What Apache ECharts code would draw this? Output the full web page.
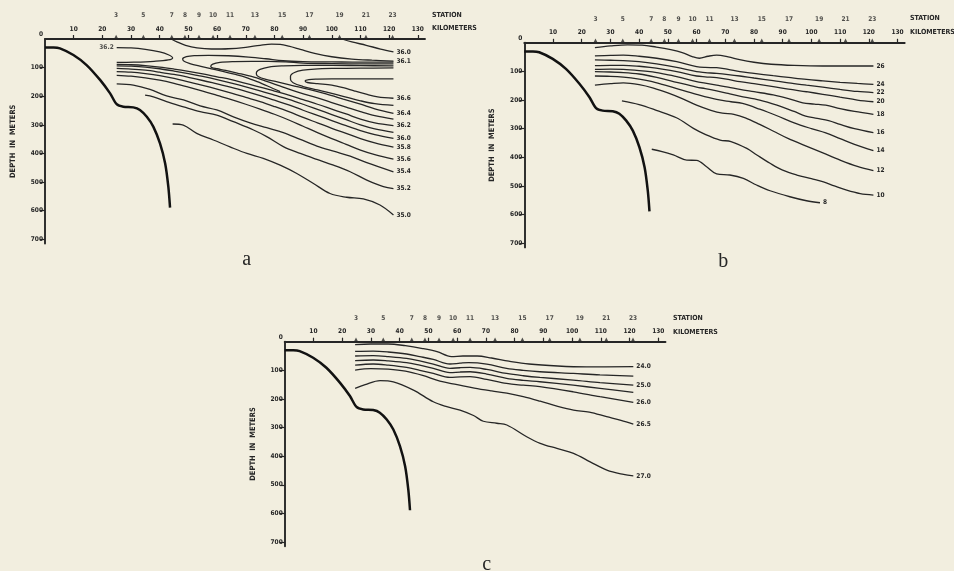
<!DOCTYPE html>
<html>
<head>
<meta charset="utf-8">
<script src="https://cdn.jsdelivr.net/npm/echarts@6/dist/echarts.min.js"></script>
<style>
html,body{margin:0;padding:0;background:#f2eedf;}
#chart{width:954px;height:571px;}
</style>
</head>
<body>
<div id="chart"></div>
<script>
// ---------- shared axes data ----------
const stationKm = [24.8, 34.3, 44.2, 48.8, 53.7, 58.6, 64.5, 73.2, 82.7, 92.2, 102.7, 111.9, 121.2];
const stationNo = ['3','5','7','8','9','10','11','13','15','17','19','21','23'];
const kmTicks = [10,20,30,40,50,60,70,80,90,100,110,120,130];
const depthLabels = [0,100,200,300,400,500,600,700];
const depthTicks = [100,200,300,400,500,600,700];
// sea floor profile (km, depth m)
const shelf = [[0,30],[3,30],[5.2,33],[9.9,56],[14.5,91],[19.2,143],[22.7,190],[25,228],[27.3,237],[30.8,239],[33.1,248],[35.5,272],[37.8,307],[40.1,365],[41.9,435],[43,516],[43.6,589]];

// ---------- panel a : salinity ----------
const sa360top = [[103.5,0],[107,10],[112,22],[117,35],[121.5,45]];
const sa361top = [[44,0],[46,10],[49,22],[53,31],[58,35],[64,34],[70,29],[75,22],[79,18],[82,19],[85,25],[89,36],[94,50],[100,62],[107,70],[114,74],[121.5,77]];
const sa362left = [[25,30],[30,31],[35,36],[40,45],[43,55],[44.5,66],[43,73],[38,78],[31,81],[25,82]];
const saLoop1 = [[121.5,81],[110,81],[100,80],[90,79],[83,76],[77,69],[71,63],[64,58.5],[57,57],[52,58],[49.3,62],[48,70],[48.5,78],[50.5,86],[54,95],[58,104],[62,113],[66,123],[70,134],[74,149],[78,166],[82,184]];
const saLoop2 = [[121.5,87],[110,87],[100,86],[90,84],[84,80],[78,78],[72,78],[66,79],[61,82],[58.5,88],[57.8,96],[58.2,100],[60,104],[63,110],[67,119],[72,131],[77,147],[83,168],[89,188],[95,206],[100,222],[105,238],[110,254],[115,268],[121.5,280]];
const saLoop3 = [[121.5,94],[110,93],[100,92],[90,92],[83,94],[78,98],[75,106],[73.8,115],[73.7,122],[74.5,132],[77,141],[81,150],[86,162],[92,176],[98,192],[104,210],[110,228],[115,244],[121.5,260]];
const saLoop4 = [[121.5,101],[110,102],[100,103],[94,105],[90,109],[87,117],[85.6,130],[85.6,141],[86.5,153],[90,166],[95,178],[100,190],[105,203],[110,216],[115,226],[121.5,232]];
const saLoop5 = [[121.5,139],[110,139],[100,139],[95,140],[92,142],[90.7,147],[91.5,152],[95,156],[100,161],[104,170],[108,182],[112,193],[116,202],[121.5,207]];
const sa362 = [[25,89],[30,90],[35,93],[40,98],[45,105],[50,113],[55,122],[60,132],[65,142],[70,155],[75,168],[80,182],[85,196],[90,212],[95,228],[100,245],[105,262],[110,280],[115,293],[121.5,303]];
const sa361 = [[25,94],[30,95],[35,98],[40,104],[45,112],[50,121],[55,131],[60,142],[65,154],[70,167],[75,181],[80,196],[85,211],[90,228],[95,246],[100,264],[105,282],[110,300],[115,314],[121.5,326]];
const sa360 = [[25,103],[30,105],[35,109],[40,116],[45,124],[50,134],[55,145],[60,157],[65,169],[70,183],[75,198],[80,214],[85,230],[90,249],[95,267],[100,285],[105,303],[110,320],[115,334],[121.5,347]];
const sa358 = [[25,114],[30,116],[35,121],[40,128],[45,138],[50,150],[55,162],[60,175],[65,189],[70,204],[75,219],[80,236],[85,254],[90,274],[95,293],[100,312],[105,330],[110,348],[115,363],[121.5,378]];
const sa356 = [[25,127],[30,130],[35,136],[40,144],[45,155],[50,168],[55,182],[60,197],[65,212],[70,228],[75,245],[80,263],[85,283],[90,305],[95,327],[100,348],[105,368],[110,388],[115,404],[121.5,420]];
const sa354 = [[25,157],[30.8,161],[36.6,176],[42.4,199],[48.3,213],[54.1,234],[59.9,248],[65.7,272],[71.5,293],[77.3,310],[83.1,327],[89,351],[94.8,374],[100.6,392],[106.4,409],[112.2,432],[121.5,464]];
const sa352 = [[34.9,196],[37.8,202],[42.4,219],[48.3,237],[54.1,254],[59.9,266],[65.7,289],[72.7,318],[77.3,341],[83.1,376],[89,400],[94.8,421],[100.6,441],[106.4,464],[112.2,493],[118,516],[121.5,523]];
const sa350 = [[44.5,297],[48.2,301],[52.9,330],[58.7,353],[64.5,377],[70.4,400],[76.1,417],[82,441],[87.8,470],[93.6,505],[99.4,540],[105.2,553],[111,559],[116.8,580],[121.5,615]];

// ---------- panel b : temperature ----------
const te26 = [[24.6,17],[30,11],[36,7],[41,8],[46,15],[51,24],[55,34],[58.5,48],[61,54],[64,47],[67,43],[71,49],[75,59],[80,68],[86,75],[94,79],[104,81],[112,81],[121.6,81]];
const te24 = [[24.6,46],[30,44],[34.5,43],[40,47],[46.1,54],[53.1,66],[60,83],[63,86],[67,87],[71,93],[75.1,101],[80,107],[86.7,115],[92,121],[98.3,128],[104,133],[110,138],[116,142],[121.6,145]];
const te22 = [[24.6,60],[30,61],[34.5,62],[40,66],[46.1,74],[53.1,86],[60,101],[63,104],[67,107],[71,111],[75.1,116],[80,123],[86.7,132],[92,140],[98.3,148],[104,155],[110,163],[116,170],[121.6,174]];
const te20 = [[24.6,80],[30,79],[34.5,79],[40,82],[43.8,86],[48,92],[53.1,101],[60,116],[63,119],[67,122],[71,128],[75.1,136],[80,143],[86.7,153],[92,162],[98.3,171],[104,180],[110,190],[116,200],[121.6,206]];
const te18 = [[24.6,93],[30,92],[34.5,93],[40,97],[43.8,101],[48,108],[53.1,118],[60,136],[63,141],[67,148],[71,155],[75.1,163],[80,171],[86.7,182],[92,195],[97,210],[101,214],[105,218],[110,230],[115,240],[121.6,250]];
const te16 = [[24.6,101],[30,102],[34.5,104],[40,109],[43.8,116],[48,125],[53.1,138],[60,155],[63,160],[67,168],[71,177],[75,186],[82,200],[88,218],[94,240],[98,256],[102,264],[106,272],[110,285],[115,300],[121.6,314]];
const te14 = [[24.6,116],[30,117],[34.5,120],[40,127],[43.8,134],[48,145],[53.1,160],[60,180],[67,198],[72,206],[76,212],[82,232],[88,255],[94,280],[100,300],[105,315],[110,335],[115,355],[121.6,377]];
const te12 = [[24.6,148],[30,143],[34.5,140],[40,146],[45,158],[50,175],[55,195],[60,218],[65,236],[69,246],[73,250],[77,262],[82,285],[87,310],[92,335],[98,360],[104,385],[110,410],[116,432],[121.6,447]];
const te10 = [[34,203],[40,216],[46,236],[53,262],[58.9,299],[63,320],[68.2,340],[72,345],[77.5,369],[81,392],[85.6,421],[90,445],[94.9,462],[100,475],[104.2,486],[108,500],[112.3,515],[117,527],[121.6,532]];
const te8 = [[44.4,372],[48,380],[51.9,392],[56.6,410],[60,411],[63.5,433],[67,458],[71.6,462],[76.3,474],[80.9,497],[85.6,517],[92.5,538],[98.3,552],[103,559]];

// ---------- panel c : density ----------
const de240 = [[24.5,10],[30,8],[36,8],[42,14],[48,24],[53,35],[58,52],[62,50],[67,50],[72,57],[78,68],[85,78],[95,85],[105,88],[121.3,87]];
const de245 = [[24.5,34],[30.8,33],[36,36],[42.4,43],[47,52],[51.7,62],[57.5,78],[61,75],[64,73],[70.3,78],[77.2,93],[83,100],[88.8,105],[100.4,111],[109.7,116],[121.3,120]];
const de250 = [[24.5,50],[30.8,49],[36,52],[42.4,58],[47,67],[51.7,78],[57.5,93],[61,91],[64.5,90],[70.3,97],[77.2,111],[83,119],[88.8,125],[100.4,134],[109.7,143],[121.3,152]];
const de255 = [[24.5,66],[30.8,64],[36,67],[42.4,73],[47,82],[51.7,93],[57.5,108],[61,106],[64.5,105],[70.3,113],[77.2,128],[83,135],[88.8,140],[100.4,152],[109.7,163],[121.3,177]];
const de260 = [[24.5,82],[30.8,78],[36,82],[42.4,90],[47,100],[51.7,111],[57.5,125],[61,123],[64.5,122],[70.3,132],[77.2,146],[83,152],[88.8,157],[100.4,175],[109.7,192],[121.3,212]];
const de265 = [[24.5,99],[30,94],[36,96],[42,103],[48,118],[54,138],[60,150],[66,162],[72,172],[77.3,180],[83,192],[88.9,208],[95,226],[100.5,239],[106,246],[112,262],[117,275],[121.3,288]];
const de270 = [[24.5,163],[28,150],[33.2,136],[37.8,140],[44.8,169],[51.7,210],[56.4,227],[61,239],[65.7,258],[69.1,278],[73.8,285],[77.3,291],[84.2,332],[88.9,355],[94.7,373],[100.5,390],[106.3,420],[112.1,449],[117.9,464],[121.3,469]];

// contour lists: [data, end label]
const panelA = [[sa360top,'36.0'],[sa361top,'36.1'],[sa362left,''],[saLoop1,''],[saLoop2,''],[saLoop3,'36.4'],[saLoop4,''],[saLoop5,'36.6'],
  [sa362,'36.2'],[sa361,''],[sa360,'36.0'],[sa358,'35.8'],[sa356,'35.6'],[sa354,'35.4'],[sa352,'35.2'],[sa350,'35.0']];
const panelB = [[te26,'26'],[te24,'24'],[te22,'22'],[te20,'20'],[te18,'18'],[te16,'16'],[te14,'14'],[te12,'12'],[te10,'10'],[te8,'8']];
const panelC = [[de240,'24.0'],[de245,''],[de250,'25.0'],[de255,''],[de260,'26.0'],[de265,'26.5'],[de270,'27.0']];
const startNotesA = [[25,30,'36.2']];

// ---------- styling / layout ----------
const INK = '#262626';
const FONT = "'DejaVu Sans Condensed','Liberation Sans Narrow','DejaVu Sans',sans-serif";
const grids = [
  {left:45, top:39, width:380, height:204.6},
  {left:524.3, top:42.8, width:380.4, height:204.6},
  {left:284.7, top:341.7, width:380.8, height:204.6}
];
const small = {fontSize:6.5, fontWeight:'bold', fontFamily:FONT, color:INK};

const xAxes = [], yAxes = [], series = [];
grids.forEach((g,i)=>{
  xAxes.push({gridIndex:i, type:'value', position:'top', min:0, max:132.5, interval:10,
    axisLine:{show:true, lineStyle:{color:INK, width:1.9}},
    axisTick:{show:true, customValues:kmTicks, length:4, lineStyle:{color:INK, width:1.2}},
    axisLabel:{show:true, customValues:kmTicks, margin:6.5, ...small},
    splitLine:{show:false}});
  yAxes.push({gridIndex:i, type:'value', inverse:true, min:0, max:715, interval:100,
    axisLine:{show:true, onZero:false, lineStyle:{color:INK, width:1.9}},
    axisTick:{show:true, customValues:depthTicks, length:5, lineStyle:{color:INK, width:1.2}},
    axisLabel:{show:true, customValues:depthLabels, margin:2, ...small,
      formatter:v=> v===0 ? '{z|0}' : String(v),
      rich:{z:{...small, padding:[0,0,9,0]}}},
    splitLine:{show:false},
    name:'DEPTH  IN  METERS', nameLocation:'middle', nameGap:28, nameRotate:90,
    nameTextStyle:{...small, fontSize:7.5}});
  // sea floor
  series.push({type:'line', xAxisIndex:i, yAxisIndex:i, data:shelf, symbol:'none', smooth:0.3,
    lineStyle:{color:'#121212', width:2.5}, silent:true, z:3});
  // stations
  series.push({type:'scatter', xAxisIndex:i, yAxisIndex:i, clip:false,
    data: stationKm.map((k,j)=>[k,0,stationNo[j]]),
    symbol:'triangle', symbolSize:[4.5,4.5], symbolOffset:[0,-2],
    itemStyle:{color:INK},
    label:{show:true, position:'top', distance:15.5, formatter:p=>p.value[2], ...small},
    silent:true, z:4});
});
function addContours(list, i){
  list.forEach(([d,lab])=>{
    const s = {type:'line', xAxisIndex:i, yAxisIndex:i, data:d, symbol:'none', smooth:0.35,
      lineStyle:{color:INK, width:1.3}, silent:true, z:2};
    if (lab) s.endLabel = {show:true, formatter:lab, distance:3, ...small};
    series.push(s);
  });
}
addContours(panelA,0); addContours(panelB,1); addContours(panelC,2);
series.push({type:'scatter', xAxisIndex:0, yAxisIndex:0, data:startNotesA, symbolSize:0, clip:false,
  label:{show:true, position:'left', distance:3, formatter:p=>p.value[2], ...small}, silent:true});

const boldTxt = "bold 7px " + FONT;
const serif = "20px 'Liberation Serif','DejaVu Serif',serif";
function txt(x,y,t,font,align){ return {type:'text', x:x, y:y, silent:true,
  style:{text:t, font:font, fill:INK, align:align||'left', verticalAlign:'middle'}}; }
const graphic = [
  txt(432,15,'STATION',boldTxt), txt(432,28.5,'KILOMETERS',boldTxt),
  txt(910,18.3,'STATION',boldTxt), txt(910,32.3,'KILOMETERS',boldTxt),
  txt(673,318.3,'STATION',boldTxt), txt(673,331.7,'KILOMETERS',boldTxt),
  txt(246.7,260,'a',serif,'center'), txt(723.3,262,'b',serif,'center'), txt(486.7,565,'c',serif,'center')
];

const chart = echarts.init(document.getElementById('chart'), null, {renderer:'canvas'});
chart.setOption({
  backgroundColor:'#f2eedf',
  animation:false,
  grid: grids,
  xAxis: xAxes,
  yAxis: yAxes,
  series: series,
  graphic: graphic
});
</script>
</body>
</html>
